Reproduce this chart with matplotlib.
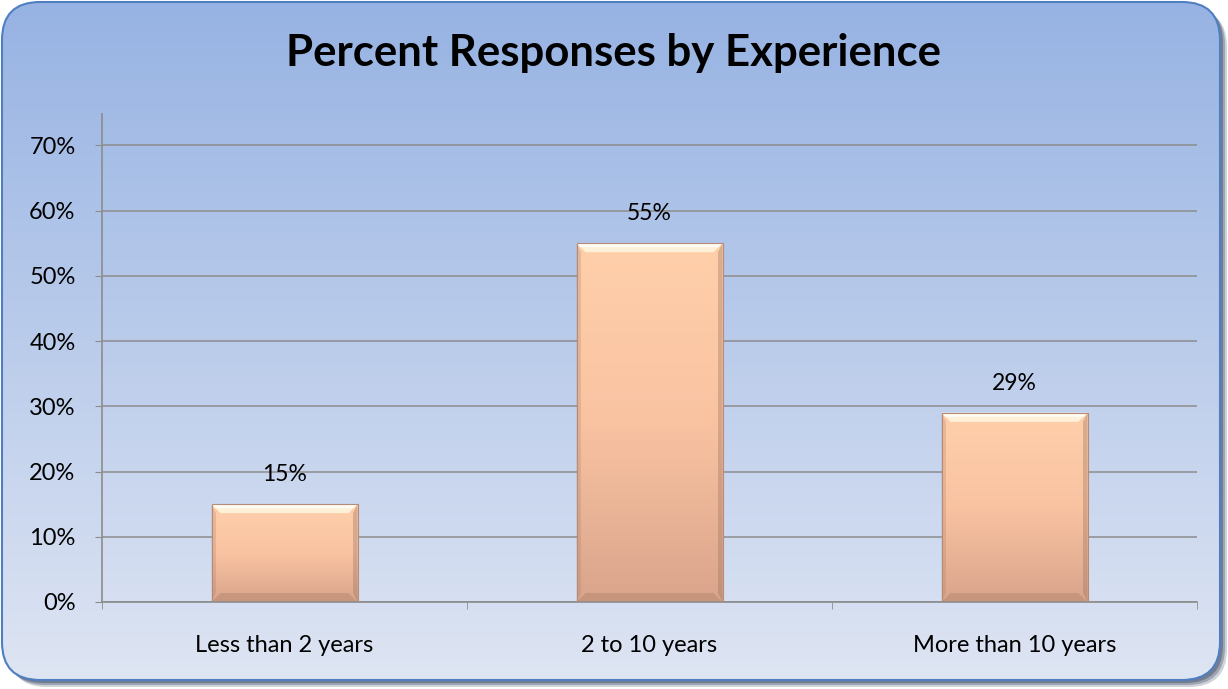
import numpy as np
import matplotlib.pyplot as plt
from matplotlib.patches import FancyBboxPatch, Polygon
from matplotlib.colors import LinearSegmentedColormap
from matplotlib.ticker import PercentFormatter, FixedLocator

plt.rcParams['font.family'] = ['Lato', 'DejaVu Sans']

categories = ['Less than 2 years', '2 to 10 years', 'More than 10 years']
percents = [15, 55, 29]
yticks = [0, 10, 20, 30, 40, 50, 60, 70]

fig = plt.figure(figsize=(12.28, 6.89), dpi=100)

# background panel with rounded corners and soft shadow
bg = fig.add_axes([0, 0, 1, 1], zorder=0)
bg.set_xlim(0, 1228)
bg.set_ylim(689, 0)
bg.axis('off')

for off, a in [(7, 0.25), (5, 0.35), (3, 0.45)]:
    bg.add_patch(FancyBboxPatch((2 + off, 2 + off), 1218, 678,
                                boxstyle='round,pad=0,rounding_size=38',
                                fc='#3f4e68', ec='none', alpha=a))
panel = FancyBboxPatch((2, 2), 1218, 678, boxstyle='round,pad=0,rounding_size=38',
                       fc='none', ec='#4f7fc0', lw=1.5, zorder=3)
bg.add_patch(panel)
grad = np.linspace(0, 1, 256).reshape(-1, 1)
bg_cmap = LinearSegmentedColormap.from_list('panel', ['#97b3e3', '#dee5f3'])
img = bg.imshow(grad, cmap=bg_cmap, extent=[2, 1220, 680, 2], aspect='auto', zorder=2)
img.set_clip_path(panel)

bg.text(614, 53, 'Percent Responses by Experience', ha='center', va='center',
        fontsize=31.5, fontweight='bold', color='black', zorder=4)

# chart area
ax = fig.add_axes([102 / 1228, 1 - 602 / 689, 1095 / 1228, 488 / 689], zorder=1)
ax.patch.set_alpha(0)
x = np.arange(len(categories))

for side in ['top', 'right']:
    ax.spines[side].set_visible(False)
for side in ['left', 'bottom']:
    ax.spines[side].set_color('#8c8c8c')
    ax.spines[side].set_linewidth(1.2)

ax.yaxis.set_major_locator(FixedLocator(yticks))
ax.yaxis.set_major_formatter(PercentFormatter(decimals=0))
ax.grid(axis='y', color='#8c8c8c', lw=1.1, zorder=0)
ax.set_axisbelow(True)
ax.tick_params(axis='y', length=5, color='#8c8c8c', labelsize=17, pad=14)

ax.set_xticks(x)
ax.set_xticklabels(categories)
ax.xaxis.set_minor_locator(FixedLocator(np.arange(-0.5, len(categories), 1)))
ax.tick_params(axis='x', which='major', length=0, labelsize=17, pad=24)
ax.tick_params(axis='x', which='minor', length=5, color='#8c8c8c')

bar_cmap = LinearSegmentedColormap.from_list('bar', ['#ffcfaa', '#f9c3a2', '#d9a48b'])
bars = ax.bar(x, percents, width=0.4, color='none', edgecolor='#b88a78', lw=0.8, zorder=3)
ppu = 488 / 74.8          # pixels per percent
xpu = 1095 / 3            # pixels per category
for b, v in zip(bars, percents):
    x0, w = b.get_x(), b.get_width()
    im = ax.imshow(grad, cmap=bar_cmap, extent=[x0, x0 + w, 0, v], aspect='auto', zorder=2)
    im.set_clip_path(b)
    # bevel: light top, darker bottom and sides
    hb, wb = 9 / ppu, 9 / xpu
    ax.add_patch(Polygon([(x0, v), (x0 + w, v), (x0 + w - wb, v - hb), (x0 + wb, v - hb)],
                         fc='#fff4dc', ec='none', alpha=0.95, zorder=2.5))
    hb2 = 4 / ppu
    ax.add_patch(Polygon([(x0, v), (x0 + w, v), (x0 + w - wb * 0.4, v - hb2), (x0 + wb * 0.4, v - hb2)],
                         fc='#fffdf5', ec='none', alpha=0.9, zorder=2.6))
    ax.add_patch(Polygon([(x0, 0), (x0 + w, 0), (x0 + w - wb, hb), (x0 + wb, hb)],
                         fc='#b5876f', ec='none', alpha=0.5, zorder=2.5))
    ax.add_patch(Polygon([(x0 + w, 0), (x0 + w, v), (x0 + w - wb * 0.5, v - hb), (x0 + w - wb * 0.5, hb)],
                         fc='#96705f', ec='none', alpha=0.35, zorder=2.5))
    ax.add_patch(Polygon([(x0, 0), (x0, v), (x0 + wb * 0.5, v - hb), (x0 + wb * 0.5, hb)],
                         fc='#a57a66', ec='none', alpha=0.25, zorder=2.5))
    ax.text(b.get_x() + w / 2, v + 2.9, f'{v}%', ha='center', va='bottom', fontsize=16.5, zorder=4)

ax.set_xlim(-0.5, len(categories) - 0.5)
ax.set_ylim(0, 74.8)

plt.savefig('out.png', dpi=100)
